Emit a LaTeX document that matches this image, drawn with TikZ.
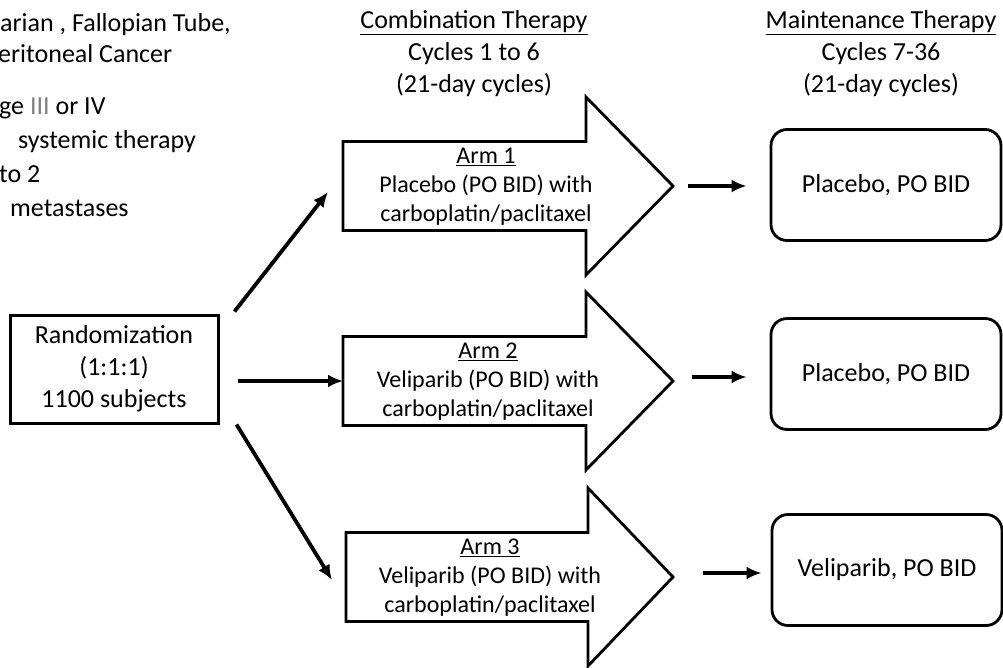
\documentclass[tikz,border=0pt]{standalone}
\usepackage{fontspec}
\setmainfont{Carlito}
\usetikzlibrary{arrows.meta,calc}

\tikzset{
  hdtxt/.style={font=\fontsize{26}{32}\selectfont, align=center, inner sep=0pt},
  lefttxt/.style={font=\fontsize{26}{31}\selectfont, anchor=base west, inner sep=0pt},
  armtxt/.style={font=\fontsize{24}{29}\selectfont, align=center, inner sep=0pt},
  randbox/.style={draw, line width=3pt, minimum width=208pt, minimum height=108pt,
    font=\fontsize{26}{32}\selectfont, align=center},
  maintbox/.style={draw, line width=2.8pt, rounded corners=16pt, minimum width=230pt,
    minimum height=111pt, font=\fontsize{26}{32}\selectfont},
  blockarrow/.style={draw, line width=2.8pt, line join=miter},
  conn/.style={line width=3.8pt, -{Latex[length=15pt,width=13pt]}},
}

\begin{document}
\begin{tikzpicture}[x=1pt,y=-1pt]
    \useasboundingbox (0,0) rectangle (1003,667);
    \clip (0,0) rectangle (1003,667);

    % eligibility text, cut at the left edge
    \node[lefttxt] (inc1) at (0,31) {arian , Fallopian Tube,};
    \node[lefttxt] (inc2) at (-2,62) {eritoneal Cancer};
    \node[lefttxt] (inc3) at (-1,114) {ge {\color{gray}III} or IV};
    \node[lefttxt] (inc4) at (18,148) {systemic therapy};
    \node[lefttxt] (inc5) at (-1,182) {to 2};
    \node[lefttxt] (inc6) at (10,216) {metastases};

    % headers
    \node[hdtxt] (comb) at (474,54) {\underline{Combination Therapy}\\Cycles 1 to 6\\(21-day cycles)};
    \node[hdtxt] (maint) at (881,54) {\underline{Maintenance Therapy}\\Cycles 7-36\\(21-day cycles)};

    \node[randbox] (rand) at (114,369) {Randomization\\(1:1:1)\\1100 subjects};

    % arms
    \coordinate (arm1) at (343,186);
    \coordinate (arm2) at (343,381);
    \coordinate (arm3) at (346,577);
    \coordinate (tip1) at ($(arm1)+(330,0)$);
    \coordinate (tip2) at ($(arm2)+(330,0)$);
    \coordinate (tip3) at ($(arm3)+(327,0)$);

    \draw[blockarrow] (arm1) ++(0,-44.5) -- ++(243,0) -- ++(0,-44.5) -- (tip1) -- ++(-87,89) -- ++(0,-44.5) -- ++(-243,0) -- cycle;
    \draw[blockarrow] (arm2) ++(0,-44.5) -- ++(243,0) -- ++(0,-44.5) -- (tip2) -- ++(-87,89) -- ++(0,-44.5) -- ++(-243,0) -- cycle;
    \draw[blockarrow] (arm3) ++(0,-44.5) -- ++(242,0) -- ++(0,-44.5) -- (tip3) -- ++(-85,89) -- ++(0,-44.5) -- ++(-242,0) -- cycle;

    \node[armtxt] (arm1txt) at (486,187) {\underline{Arm 1}\\Placebo (PO BID) with\\carboplatin/paclitaxel};
    \node[armtxt] (arm2txt) at (488,382) {\underline{Arm 2}\\Veliparib (PO BID) with\\carboplatin/paclitaxel};
    \node[armtxt] (arm3txt) at (490,578) {\underline{Arm 3}\\Veliparib (PO BID) with\\carboplatin/paclitaxel};

    % maintenance
    \node[maintbox] (mt1) at (886,185) {Placebo, PO BID};
    \node[maintbox] (mt2) at (886,374) {Placebo, PO BID};
    \node[maintbox] (mt3) at (887,570) {Veliparib, PO BID};

    \draw[conn] ($(rand.north east)+(15,-2)$) -- ($(arm1)+(-15,6)$);
    \draw[conn] (rand.east |- arm2) ++(18,0) -- (arm2);
    \draw[conn] ($(rand.south east)+(17,0)$) -- ($(arm3)+(-14,3)$);

    \draw[conn] ($(tip1)+(15,0)$) -- ($(mt1.west |- tip1)+(-23,0)$);
    \draw[conn] ($(tip2)+(19,-4)$) -- ($(mt2.west |- tip2)+(-23,-4)$);
    \draw[conn] ($(tip3)+(30,-4)$) -- ($(mt3.west |- tip3)+(-9,-4)$);
\end{tikzpicture}
\end{document}
